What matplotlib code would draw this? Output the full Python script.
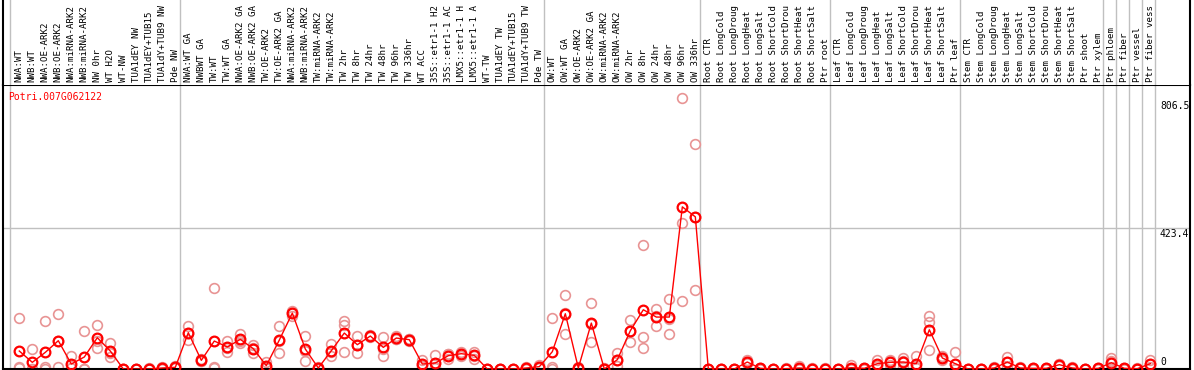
# Expression profile of Potri.007G062122 across poplar samples

import matplotlib
import matplotlib.pyplot as plt
from matplotlib.transforms import blended_transform_factory

gene = "Potri.007G062122"

# sample names as far as they are shown in the header
samples = [
    "NWA:WT", "NWB:WT", "NWA:OE-ARK2", "NWB:OE-ARK2", "NWA:miRNA-ARK2",
    "NWB:miRNA-ARK2", "NW 0hr", "WT H2O", "WT-NW", "TUA1dEY NW",
    "TUA1dEY+TUB15", "TUA1dY+TUB9 NW", "Pde NW", "NWA:WT GA", "NWBWT GA",
    "TW:WT", "TW:WT GA", "NWA:OE-ARK2 GA", "NWB:OE-ARK2 GA", "TW:OE-ARK2",
    "TW:OE-ARK2 GA", "NWA:miRNA-ARK2", "NWB:miRNA-ARK2", "TW:miRNA-ARK2",
    "TW:miRNA-ARK2", "TW 2hr", "TW 8hr", "TW 24hr", "TW 48hr", "TW 96hr",
    "TW 336hr", "WT ACC", "35S::etr1-1 H2", "35S::etr1-1 AC",
    "LMX5::etr1-1 H", "LMX5::etr1-1 A", "WT-TW", "TUA1dEY TW",
    "TUA1dEY+TUB15", "TUA1dY+TUB9 TW", "Pde TW", "OW:WT", "OW:WT GA",
    "OW:OE-ARK2", "OW:OE-ARK2 GA", "OW:miRNA-ARK2", "OW:miRNA-ARK2",
    "OW 2hr", "OW 8hr", "OW 24hr", "OW 48hr", "OW 96hr", "OW 336hr",
    "Root CTR", "Root LongCold", "Root LongDroug", "Root LongHeat",
    "Root LongSalt", "Root ShortCold", "Root ShortDrou", "Root ShortHeat",
    "Root ShortSalt", "Ptr root", "Leaf CTR", "Leaf LongCold",
    "Leaf LongDroug", "Leaf LongHeat", "Leaf LongSalt", "Leaf ShortCold",
    "Leaf ShortDrou", "Leaf ShortHeat", "Leaf ShortSalt", "Ptr leaf",
    "Stem CTR", "Stem LongCold", "Stem LongDroug", "Stem LongHeat",
    "Stem LongSalt", "Stem ShortCold", "Stem ShortDrou", "Stem ShortHeat",
    "Stem ShortSalt", "Ptr shoot", "Ptr xylem", "Ptr phloem", "Ptr fiber",
    "Ptr vessel", "Ptr fiber vess",
]

means = [
    54, 20, 50, 85, 15, 36, 94, 54, 0, 0,
    0, 3, 5, 109, 26, 84, 66, 89, 61, 10,
    87, 168, 60, 3, 55, 108, 73, 99, 65, 93,
    88, 15, 18, 40, 46, 41, 0, 0, 0, 3,
    7, 52, 166, 3, 138, 0, 28, 115, 178, 156,
    156, 487, 457, 0, 0, 0, 21, 2, 0, 1,
    3, 1, 1, 0, 4, 2, 16, 20, 21, 16,
    118, 33, 16, 0, 0, 3, 21, 3, 2, 2,
    13, 3, 0, 2, 19, 2, 1, 16,
]

reps = [
    [153, 5, 4], [60, 0, 0], [144, 5, 0], [165, 5, 85], [40, 3, 2],
    [114, 0, 0], [133, 64, 85], [78, 37, 47], [0, 0, 0], [0, 0, 0],
    [2, 0, 0], [6, 2, 1], [8, 5, 2], [130, 88, 109], [30, 24, 24],
    [243, 3, 6], [84, 52, 62], [105, 79, 83], [73, 48, 62], [22, 5, 3],
    [130, 48, 83], [175, 160, 168], [100, 25, 55], [6, 2, 1], [75, 38, 52],
    [145, 131, 52], [100, 48, 71], [95, 103, 99], [96, 40, 59], [90, 98, 91],
    [85, 90, 89], [28, 8, 9], [43, 7, 4], [30, 45, 45], [52, 40, 46],
    [52, 31, 40], [0, 0, 0], [0, 0, 0], [0, 0, 0], [6, 2, 1],
    [12, 5, 4], [153, 5, 0], [223, 106, 169], [6, 2, 1], [198, 82, 134],
    [2, 0, 0], [48, 8, 28], [148, 82, 115], [373, 97, 64], [181, 129, 158],
    [211, 106, 151], [815, 438, 205], [676, 237, 458], [0, 0, 0], [0, 0, 0],
    [1, 0, 0], [28, 18, 17], [4, 1, 1], [0, 0, 0], [2, 1, 0],
    [10, 0, 0], [2, 1, 0], [2, 1, 0], [0, 0, 0], [13, 0, 0],
    [4, 1, 1], [28, 10, 10], [28, 12, 20], [33, 25, 5], [40, 6, 2],
    [160, 142, 56], [38, 27, 34], [52, 0, 0], [0, 0, 0], [0, 0, 0],
    [6, 2, 1], [36, 6, 21], [5, 2, 2], [4, 1, 1], [4, 1, 1],
    [15, 10, 14], [6, 2, 1], [0, 0, 0], [4, 1, 1], [34, 0, 23],
    [4, 1, 1], [2, 1, 0], [28, 5, 15],
]

# group separators (between sample positions)
separators = [-0.7, 12.36, 40.36, 52.36, 62.36, 72.36, 83.36, 84.36, 85.36, 86.36, 87.36]
ytick_values = [806.5, 423.4, 0]


def main():
    W, H = 1194, 370
    fig = plt.figure(figsize=(W / 100, H / 100), dpi=100)
    mono = "DejaVu Sans Mono"

    left, right = 3, 1190
    ax = fig.add_axes([left / W, 1 / H, (right - left) / W, 284 / H])
    hx = fig.add_axes([left / W, 285 / H, (right - left) / W, 85 / H])

    x = list(range(len(samples)))
    xlim = (-1.254, 90.05)
    for a in (ax, hx):
        a.set_xlim(*xlim)
        a.set_xticks([])
        a.set_yticks([])
        for s in a.spines.values():
            s.set_linewidth(1.5)
            s.set_color('black')
        for sx in separators:
            a.axvline(sx, color='#c0c0c0', lw=1, zorder=0)
    hx.spines['top'].set_visible(False)
    hx.spines['bottom'].set_visible(False)
    hx.set_ylim(0, 1)

    ax.set_ylim(0, 853)
    ax.axhline(423.4, color='#c0c0c0', lw=1, zorder=0)

    # replicate points
    for i, r in enumerate(reps):
        ax.plot([i] * len(r), r, linestyle='none', marker='o', markersize=7,
                markerfacecolor='none', markeredgecolor='#e89494', mew=1.2, zorder=2)

    # mean line
    ax.plot(x, means, color='red', lw=1, marker='o', markersize=7,
            markerfacecolor='none', markeredgecolor='red', mew=1.6, zorder=3)

    # header labels
    tr = blended_transform_factory(hx.transData, hx.transAxes)
    for i, lab in enumerate(samples):
        hx.text(i, 3 / 85, lab, rotation=90, ha='center', va='bottom',
                fontsize=6.6, family=mono, transform=tr)

    # title and value labels
    fig.text(8 / W, 1 - 97 / H, gene, color='red', fontsize=7, family=mono,
             ha='left', va='center')
    ytr = blended_transform_factory(fig.transFigure, ax.transData)
    for v in ytick_values:
        va = 'bottom' if v == 0 else 'top'
        ax.text(1160 / W, v + (5 if v == 0 else -3), str(v) if v else "0",
                transform=ytr, fontsize=7, family=mono, ha='left', va=va)

    fig.savefig("out.png", dpi=100)


if __name__ == "__main__":
    main()
